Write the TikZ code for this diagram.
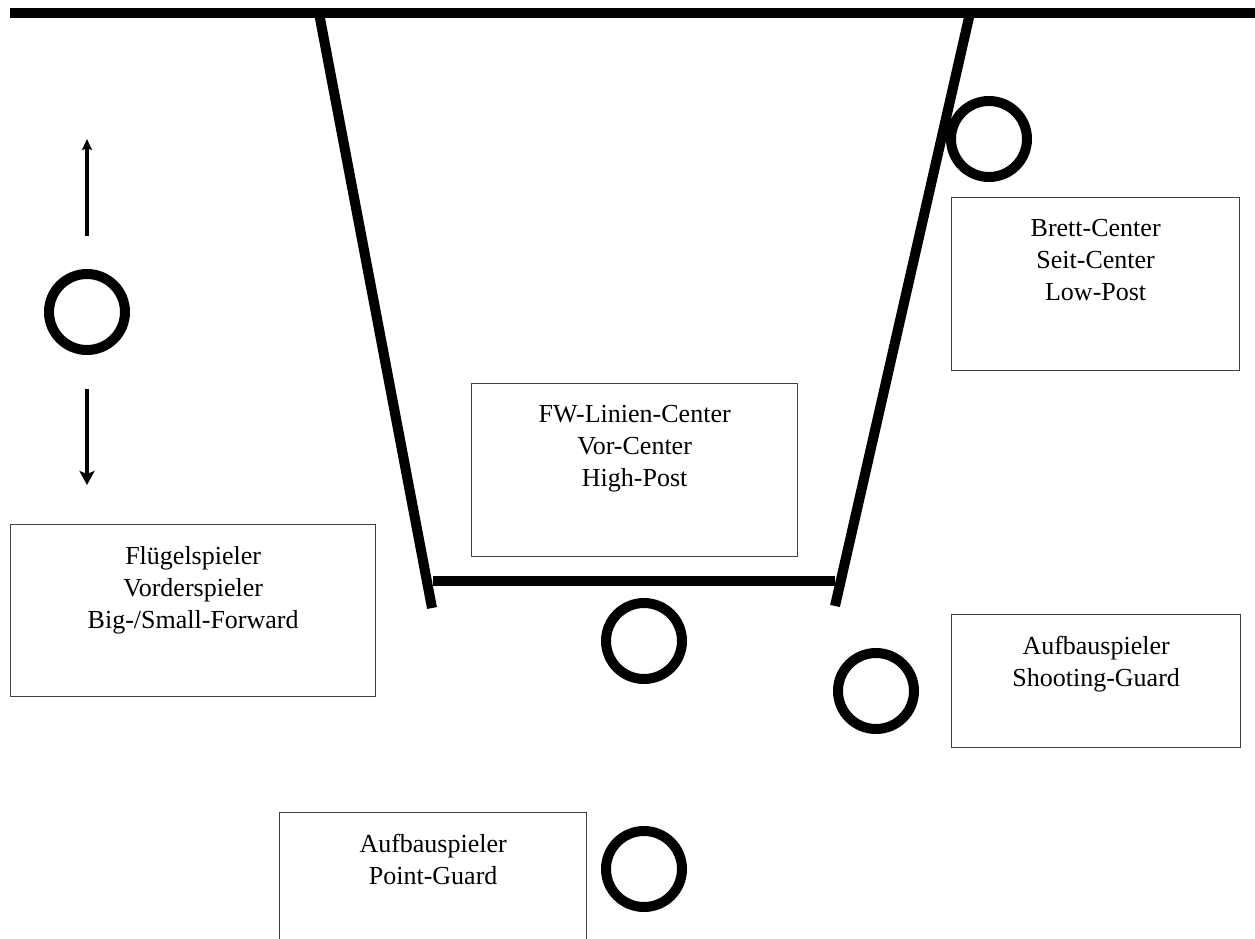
\documentclass[tikz,border=0pt]{standalone}
\usepackage{fontspec}
\setmainfont{Liberation Serif}
\usetikzlibrary{arrows.meta}
\begin{document}
\begin{tikzpicture}[x=1pt,y=-1pt,
  court/.style={line width=10pt,line cap=butt},
  player/.style={circle,draw,line width=10pt,minimum size=76pt,inner sep=0pt},
  posbox/.style={draw=black!75,line width=1.3pt,anchor=north west,inner sep=0pt},
  postext/.style={anchor=north,align=center,inner sep=0pt,font=\fontsize{26}{32}\selectfont},
  move/.style={line width=4pt,-{Stealth[length=14pt,width=15pt,inset=3pt]}}]
\clip (0,0) rectangle (1255,939);
\fill[white] (0,0) rectangle (1255,939);
% court lines
\coordinate (tl) at (10,13);
\coordinate (tr) at (1255,13);
\coordinate (kl) at (319,13);
\coordinate (kr) at (970,13);
\coordinate (bl) at (432,608);
\coordinate (br) at (835,606);
\coordinate (fl) at (433,581);
\coordinate (fr) at (835,581);
\draw[court] (tl) -- (tr);
\draw[court] (kl) -- (bl);
\draw[court] (kr) -- (br);
\draw[court] (fl) -- (fr);
% players
\node[player] (p1) at (87,312) {};
\node[player] (p2) at (989,139) {};
\node[player] (p3) at (644,641) {};
\node[player] (p4) at (876,691) {};
\node[player] (p5) at (644,869) {};
% arrows
\coordinate (a1s) at (87,236);
\coordinate (a1e) at (87,139);
\coordinate (a2s) at (87,389);
\coordinate (a2e) at (87,485);
\draw[line width=4pt,-{Stealth[length=11pt,width=10pt,inset=2pt]}] (a1s) -- (a1e);
\draw[move] (a2s) -- (a2e);
% boxes
\node[posbox,minimum width=288pt,minimum height=173pt] (b1) at (951,197) {};
\node[postext] at ([yshift=-22pt]b1.north) {Brett-Center\\Seit-Center\\Low-Post};
\node[posbox,minimum width=326pt,minimum height=173pt] (b2) at (471,383) {};
\node[postext] at ([yshift=-22pt]b2.north) {FW-Linien-Center\\Vor-Center\\High-Post};
\node[posbox,minimum width=365pt,minimum height=172pt] (b3) at (10,524) {};
\node[postext] at ([yshift=-22pt]b3.north) {Flügelspieler\\Vorderspieler\\Big-/Small-Forward};
\node[posbox,minimum width=289pt,minimum height=133pt] (b4) at (951,614) {};
\node[postext] at ([yshift=-22pt]b4.north) {Aufbauspieler\\Shooting-Guard};
\node[posbox,minimum width=307pt,minimum height=160pt] (b5) at (279,812) {};
\node[postext] at ([yshift=-22pt]b5.north) {Aufbauspieler\\Point-Guard};
\end{tikzpicture}
\end{document}
